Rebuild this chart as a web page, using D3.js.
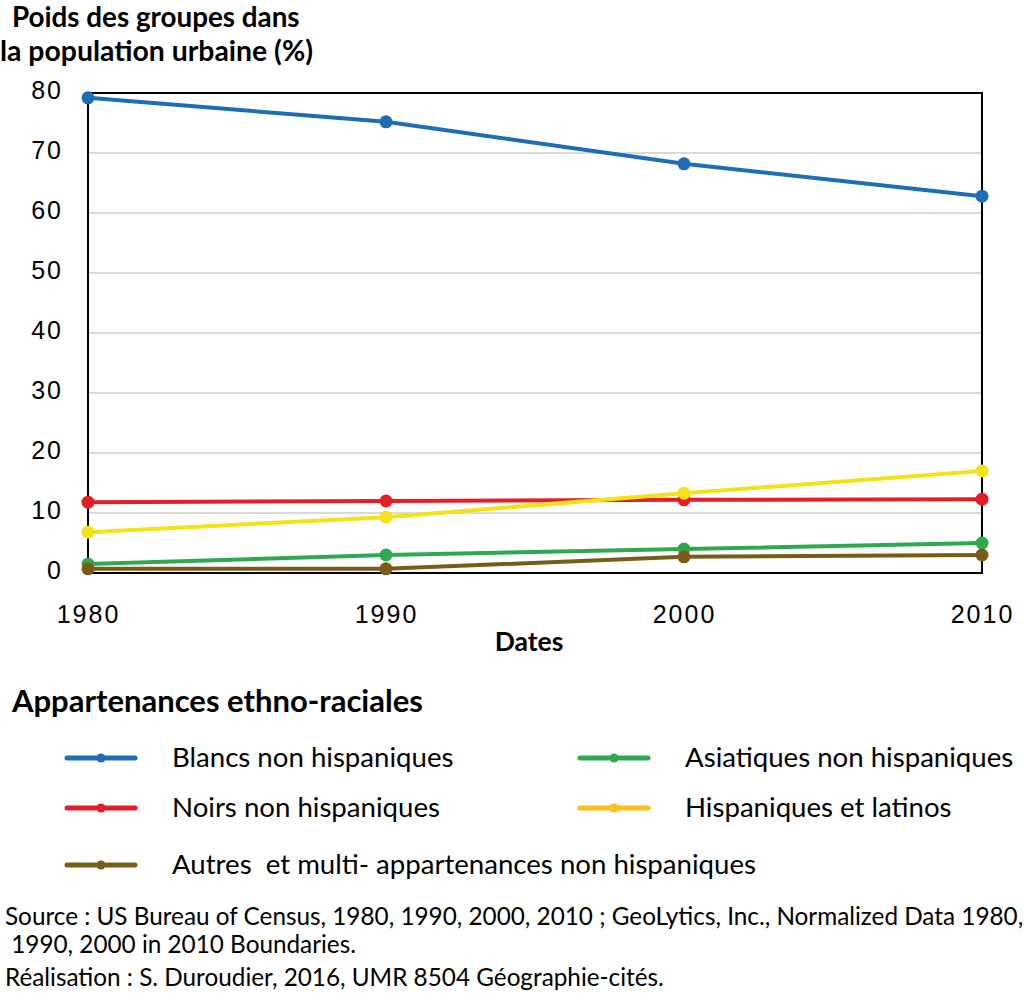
<!DOCTYPE html>
<html>
<head>
<meta charset="utf-8">
<script src="https://cdn.jsdelivr.net/npm/d3@7"></script>
<style>
  body { margin: 0; background: #fff; }
  svg { display: block; }
</style>
</head>
<body>
<div id="chart"></div>
<script>
"use strict";

// Data
const years = [1980, 1990, 2000, 2010];
const yTicks = [0, 10, 20, 30, 40, 50, 60, 70, 80];
const seriesNames = [
  "Blancs non hispaniques",
  "Noirs non hispaniques",
  "Hispaniques et latinos",
  "Asiatiques non hispaniques",
  "Autres  et multi- appartenances non hispaniques"
];
const blancs   = [79.2, 75.2, 68.2, 62.8];
const noirs    = [11.8, 12.0, 12.2, 12.3];
const hispan   = [6.8, 9.3, 13.3, 17.0];
const asiat    = [1.5, 3.0, 4.0, 5.0];
const autres   = [0.7, 0.7, 2.7, 3.0];
const seriesValues = [blancs, noirs, hispan, asiat, autres];
const lineColors   = ["#1f6db4", "#e31e24", "#f2e318", "#30a852", "#7a5c19"];
const legendColors = ["#1f6db4", "#e31e24", "#fbbf1a", "#30a852", "#7a5c19"];

const W = 1024, H = 998;
const plot = { left: 88, right: 982, top: 93, bottom: 573 };

const svg = d3.select("#chart").append("svg")
  .attr("width", W).attr("height", H);

const x = d3.scaleLinear().domain([1980, 2010]).range([plot.left, plot.right]);
const y = d3.scaleLinear().domain([0, 80]).range([plot.bottom, plot.top]);

// Titles
const titleFont = "Lato, 'Open Sans', sans-serif";
svg.append("text").attr("x", 12).attr("y", 27)
  .attr("font-family", titleFont).attr("font-weight", 700).attr("font-size", 27.8)
  .text("Poids des groupes dans");
svg.append("text").attr("x", 0).attr("y", 61)
  .attr("font-family", titleFont).attr("font-weight", 700).attr("font-size", 28.4)
  .text("la population urbaine (%)");

// Gridlines
svg.append("g")
  .selectAll("line")
  .data(yTicks.filter(t => t > 0 && t < 80))
  .join("line")
  .attr("x1", plot.left).attr("x2", plot.right)
  .attr("y1", d => y(d)).attr("y2", d => y(d))
  .attr("stroke", "#d9d9d9").attr("stroke-width", 2);

// Frame
svg.append("rect")
  .attr("x", plot.left).attr("y", plot.top)
  .attr("width", plot.right - plot.left).attr("height", plot.bottom - plot.top)
  .attr("fill", "none").attr("stroke", "#000").attr("stroke-width", 2);

// Y axis labels
const yAxis = d3.axisLeft(y).tickValues(yTicks).tickSize(0).tickPadding(25);
const yg = svg.append("g").attr("transform", `translate(${plot.left},0)`).call(yAxis);
yg.select(".domain").remove();
yg.selectAll("text")
  .attr("font-family", "'Liberation Sans', Arial, sans-serif")
  .attr("font-size", 25).attr("letter-spacing", 2).attr("fill", "#000")
  .attr("dy", "0.22em");

// X axis labels
const xAxis = d3.axisBottom(x).tickValues(years).tickSize(0).tickPadding(32).tickFormat(d3.format("d"));
const xg = svg.append("g").attr("transform", `translate(0,${plot.bottom})`).call(xAxis);
xg.select(".domain").remove();
xg.selectAll("text")
  .attr("font-family", "'Liberation Sans', Arial, sans-serif")
  .attr("font-size", 25).attr("letter-spacing", 2).attr("fill", "#000");

svg.append("text").attr("x", 529).attr("y", 651).attr("text-anchor", "middle")
  .attr("font-family", titleFont).attr("font-weight", 700).attr("font-size", 26.5)
  .text("Dates");

// Series lines (order of drawing follows the source overlaps)
const line = d3.line().x((d, i) => x(years[i])).y(d => y(d));
const order = [3, 4, 1, 2, 0];
order.forEach(si => {
  const g = svg.append("g");
  g.append("path")
    .attr("d", line(seriesValues[si]))
    .attr("fill", "none").attr("stroke", lineColors[si]).attr("stroke-width", 4);
  g.selectAll("circle")
    .data(seriesValues[si])
    .join("circle")
    .attr("cx", (d, i) => x(years[i])).attr("cy", d => y(d))
    .attr("r", 6.5).attr("fill", lineColors[si]);
});

// Legend
svg.append("text").attr("x", 12).attr("y", 712)
  .attr("font-family", titleFont).attr("font-weight", 700).attr("font-size", 31)
  .text("Appartenances ethno-raciales");

const legendPos = [
  { lx: 67, ly: 758 },
  { lx: 67, ly: 808 },
  { lx: 580, ly: 808 },
  { lx: 580, ly: 758 },
  { lx: 67, ly: 865 }
];
seriesNames.forEach((name, si) => {
  const p = legendPos[si];
  const g = svg.append("g").attr("transform", `translate(${p.lx},${p.ly})`);
  g.append("line").attr("x1", 0).attr("x2", 68).attr("y1", 0).attr("y2", 0)
    .attr("stroke", legendColors[si]).attr("stroke-width", 5).attr("stroke-linecap", "round");
  g.append("circle").attr("cx", 34).attr("cy", 0).attr("r", 4.5).attr("fill", legendColors[si]);
  g.append("text").attr("x", 105).attr("y", 9)
    .attr("font-family", titleFont).attr("font-size", 27.6).attr("fill", "#000")
    .style("white-space", "pre")
    .text(name);
});

// Source notes
const notes = [
  { x: 5, y: 925, t: "Source : US Bureau of Census, 1980, 1990, 2000, 2010 ; GeoLytics, Inc., Normalized Data 1980," },
  { x: 5, y: 953, t: " 1990, 2000 in 2010 Boundaries." },
  { x: 5, y: 986, t: "Réalisation : S. Duroudier, 2016, UMR 8504 Géographie-cités." }
];
svg.append("g").selectAll("text").data(notes).join("text")
  .attr("x", d => d.x).attr("y", d => d.y)
  .attr("font-family", titleFont).attr("font-size", 24.3)
  .style("white-space", "pre")
  .text(d => d.t);
</script>
</body>
</html>
